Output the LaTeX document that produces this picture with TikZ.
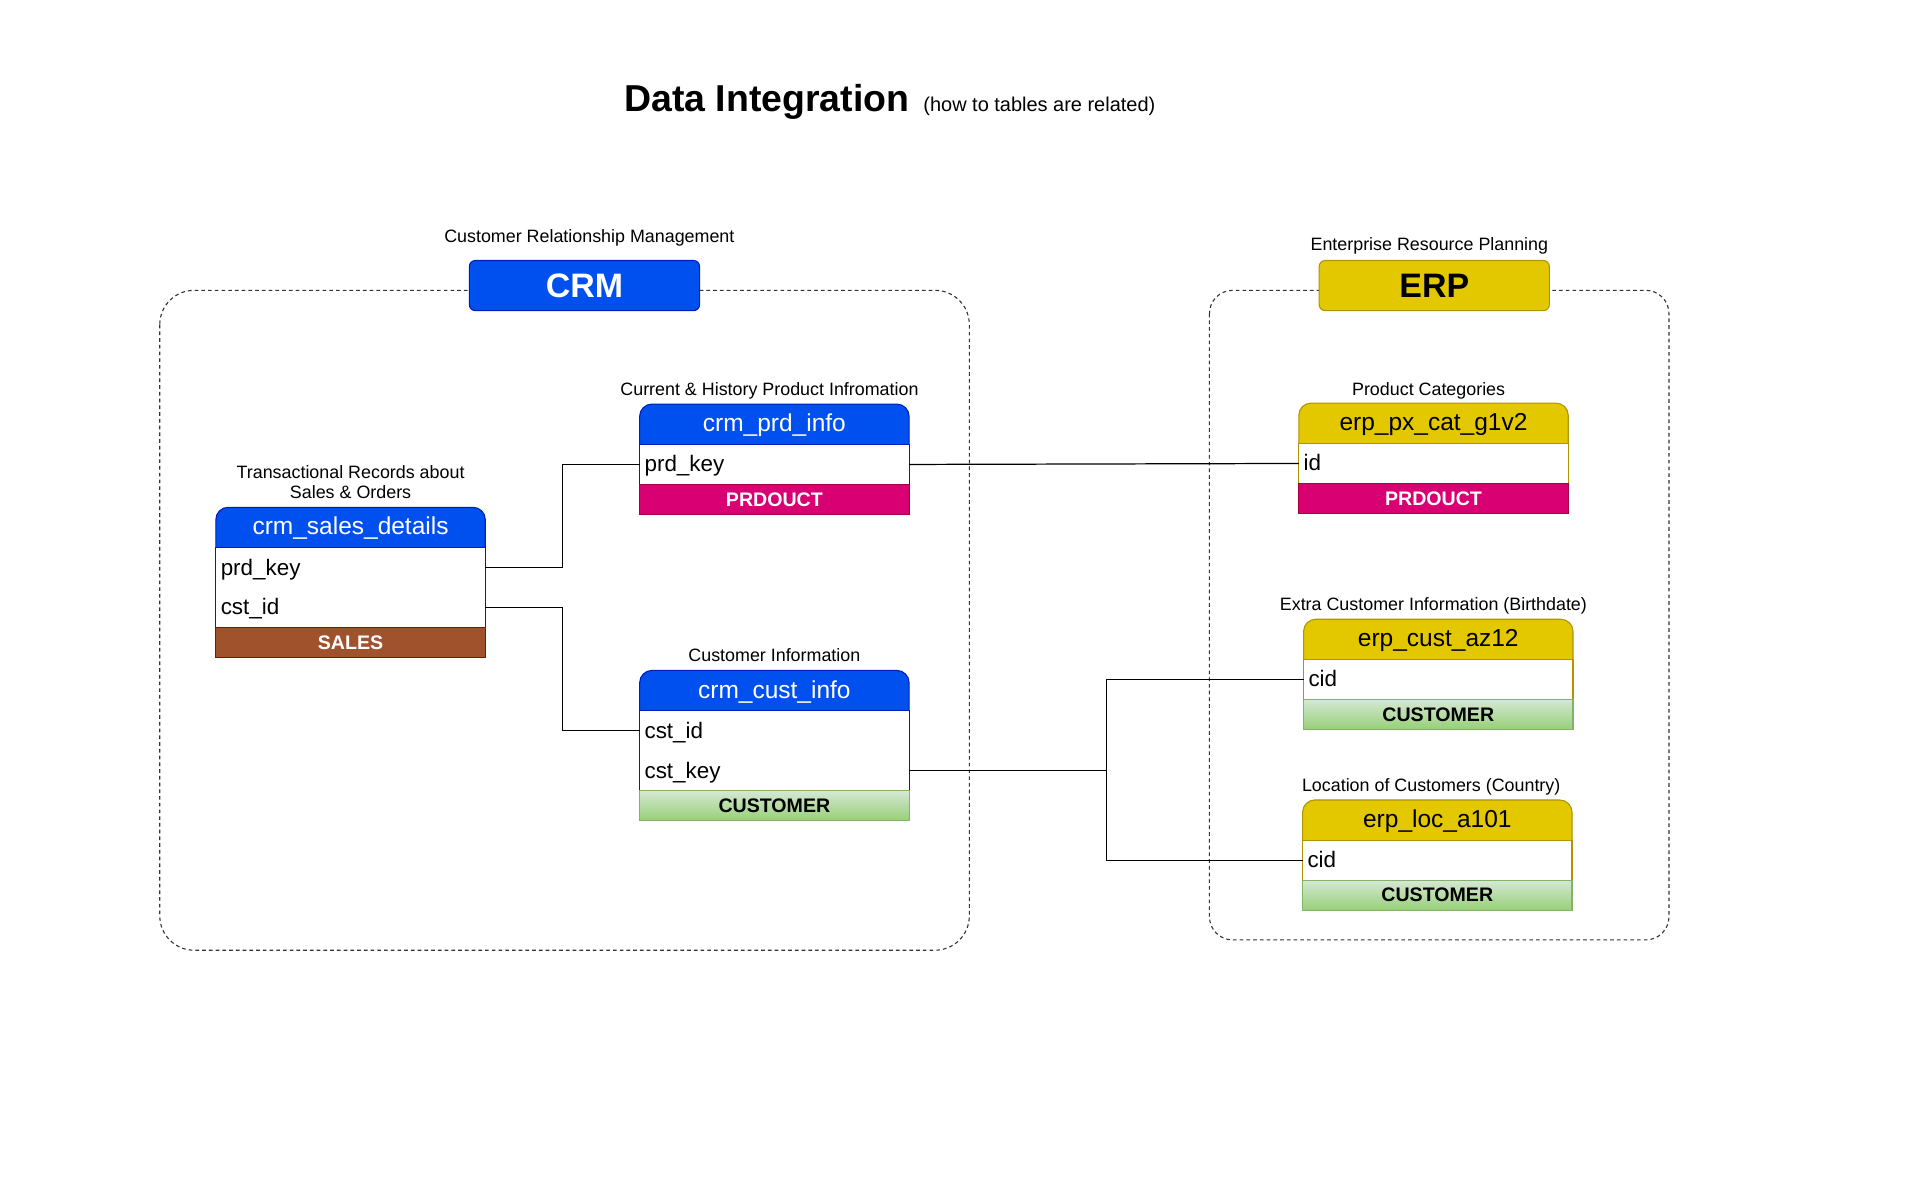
\documentclass[tikz,border=0pt]{standalone}
\usepackage{fontspec}
\setmainfont{Liberation Sans}
\usetikzlibrary{positioning,backgrounds}
\definecolor{crmblue}{HTML}{0050EF}
\definecolor{crmline}{HTML}{001DBC}
\definecolor{erpgold}{HTML}{E3C800}
\definecolor{erpline}{HTML}{B09500}
\definecolor{prodpink}{HTML}{D80073}
\definecolor{prodline}{HTML}{A50040}
\definecolor{salesbrown}{HTML}{A0522D}
\definecolor{salesline}{HTML}{6D1F00}
\definecolor{custtop}{HTML}{D5E8D4}
\definecolor{custbot}{HTML}{97D077}
\definecolor{custline}{HTML}{82B366}
\tikzset{
  grpbox/.style={draw=black!80, line width=0.9pt, dash pattern=on 3pt off 2.5pt},
  sysbox/.style={rectangle, rounded corners=5pt, draw, line width=0.9pt, minimum width=188pt, minimum height=41pt, inner sep=0pt, font=\fontsize{27.7}{32}\selectfont\bfseries},
  thead/.style={rectangle, minimum width=220pt, minimum height=33pt, inner sep=0pt, outer sep=0pt, text height=15.6pt, text depth=3.4pt, font=\fontsize{20}{24}\selectfont},
  trow/.style={rectangle, fill=white, minimum width=220pt, minimum height=32.6pt, text width=212pt, align=left, inner xsep=4pt, inner ysep=0pt, outer sep=0pt, text height=14.5pt, text depth=2.5pt, font=\fontsize{18.3}{22}\selectfont},
  tfoot/.style={rectangle, draw, line width=0.9pt, minimum width=220pt, minimum height=24.4pt, inner sep=0pt, outer sep=0pt, font=\fontsize{16}{19}\selectfont\bfseries},
  tcap/.style={inner sep=0pt, align=center, font=\fontsize{14.6}{17}\selectfont},
  fkline/.style={draw=black, line width=1pt},
}
\begin{document}
\begin{tikzpicture}[x=1pt, y=-1pt]
  \useasboundingbox (0,0) rectangle (1568,980);

  % --- Title ---
  \node[font=\fontsize{30.6}{36}\selectfont\bfseries, inner sep=0pt, anchor=base west] (ttl) at (509.6,91.2) {Data Integration};
  \node[font=\fontsize{16.3}{20}\selectfont, inner sep=0pt, anchor=base west] (subttl) at ([xshift=11pt]ttl.base east) {(how to tables are related)};

  % --- CRM group ---
  \draw[grpbox, rounded corners=28pt] (130.5,237.1) rectangle (791.6,776);
  \node[sysbox, draw=crmline, fill=crmblue, text=white] (crm) at (477.3,233.2) {CRM};
  \node[tcap, above=14.6pt of crm, anchor=base, xshift=4pt] (crm-cap) {Customer Relationship Management};

  % --- ERP group ---
  \draw[grpbox, rounded corners=19pt] (987.7,237.1) rectangle (1363,767.6);
  \node[sysbox, draw=erpline, fill=erpgold] (erp) at (1171.3,233.2) {ERP};
  \node[tcap, above=7.4pt of erp, anchor=base, xshift=-4pt] (erp-cap) {Enterprise Resource Planning};

  % crm_sales_details
  \node[thead, text=white] (sd) at (286.3,430.8) {crm\_sales\_details};
  \node[trow, below=0pt of sd] (sd-prd) {prd\_key};
  \node[trow, below=0pt of sd-prd] (sd-cst) {cst\_id};
  \draw[crmline, line width=0.9pt] (sd-prd.north west) rectangle (sd-cst.south east);
  \node[tfoot, draw=salesline, fill=salesbrown, text=white, below=0pt of sd-cst] (sd-f) {SALES};
  \node[tcap, above=6.8pt of sd, anchor=base] (sd-cap) {Transactional Records about\\Sales \& Orders};

  % crm_prd_info
  \node[thead, text=white] (pi) at (632.4,346.5) {crm\_prd\_info};
  \node[trow, below=0pt of pi] (pi-prd) {prd\_key};
  \draw[crmline, line width=0.9pt] (pi-prd.north west) rectangle (pi-prd.south east);
  \node[tfoot, draw=prodline, fill=prodpink, text=white, below=0pt of pi-prd] (pi-f) {PRDOUCT};
  \node[tcap, above=7.4pt of pi, anchor=base, xshift=-4pt] (pi-cap) {Current \& History Product Infromation};

  % crm_cust_info
  \node[thead, text=white] (ci) at (632.4,564) {crm\_cust\_info};
  \node[trow, below=0pt of ci] (ci-id) {cst\_id};
  \node[trow, below=0pt of ci-id] (ci-key) {cst\_key};
  \draw[crmline, line width=0.9pt] (ci-id.north west) rectangle (ci-key.south east);
  \node[tfoot, draw=custline, top color=custtop, bottom color=custbot, below=0pt of ci-key] (ci-f) {CUSTOMER};
  \node[tcap, above=7.3pt of ci, anchor=base] (ci-cap) {Customer Information};

  % erp_px_cat_g1v2
  \node[thead] (px) at (1170.7,345.7) {erp\_px\_cat\_g1v2};
  \node[trow, below=0pt of px] (px-id) {id};
  \draw[erpline, line width=0.9pt] (px-id.north west) rectangle (px-id.south east);
  \node[tfoot, draw=prodline, fill=prodpink, text=white, below=0pt of px-id] (px-f) {PRDOUCT};
  \node[tcap, above=6.5pt of px, anchor=base, xshift=-4pt] (px-cap) {Product Categories};

  % erp_cust_az12
  \node[thead] (az) at (1174.6,522.2) {erp\_cust\_az12};
  \node[trow, below=0pt of az] (az-cid) {cid};
  \draw[erpline, line width=0.9pt] (az-cid.north west) rectangle (az-cid.south east);
  \node[tfoot, draw=custline, top color=custtop, bottom color=custbot, below=0pt of az-cid] (az-f) {CUSTOMER};
  \node[tcap, above=7.1pt of az, anchor=base, xshift=-4pt] (az-cap) {Extra Customer Information (Birthdate)};

  % erp_loc_a101
  \node[thead] (lc) at (1173.8,669.8) {erp\_loc\_a101};
  \node[trow, below=0pt of lc] (lc-cid) {cid};
  \draw[erpline, line width=0.9pt] (lc-cid.north west) rectangle (lc-cid.south east);
  \node[tfoot, draw=custline, top color=custtop, bottom color=custbot, below=0pt of lc-cid] (lc-f) {CUSTOMER};
  \node[tcap, above=6.8pt of lc, anchor=base, xshift=-5pt] (lc-cap) {Location of Customers (Country)};

  % table heads with rounded top
  \begin{scope}[on background layer]
    \foreach \h/\c/\l in {sd/crmblue/crmline, pi/crmblue/crmline, ci/crmblue/crmline, px/erpgold/erpline, az/erpgold/erpline, lc/erpgold/erpline}
      \draw[draw=\l, fill=\c, line width=0.9pt, rounded corners=10pt] (\h.south west) -- (\h.north west) -- (\h.north east) -- (\h.south east);
  \end{scope}

  % keys
  \coordinate (jx) at (459.5,0);
  \coordinate (kx) at (903.5,0);
  \draw[fkline] (sd-prd.east) -| (jx |- pi-prd.west) -- (pi-prd.west);
  \draw[fkline] (sd-cst.east) -| (jx |- ci-id.west) -- (ci-id.west);
  \draw[fkline] (pi-prd.east) -- (px-id.west);
  \draw[fkline] (ci-key.east) -| (kx |- az-cid.west) -- (az-cid.west);
  \draw[fkline] (ci-key.east) -| (kx |- lc-cid.west) -- (lc-cid.west);
\end{tikzpicture}
\end{document}
